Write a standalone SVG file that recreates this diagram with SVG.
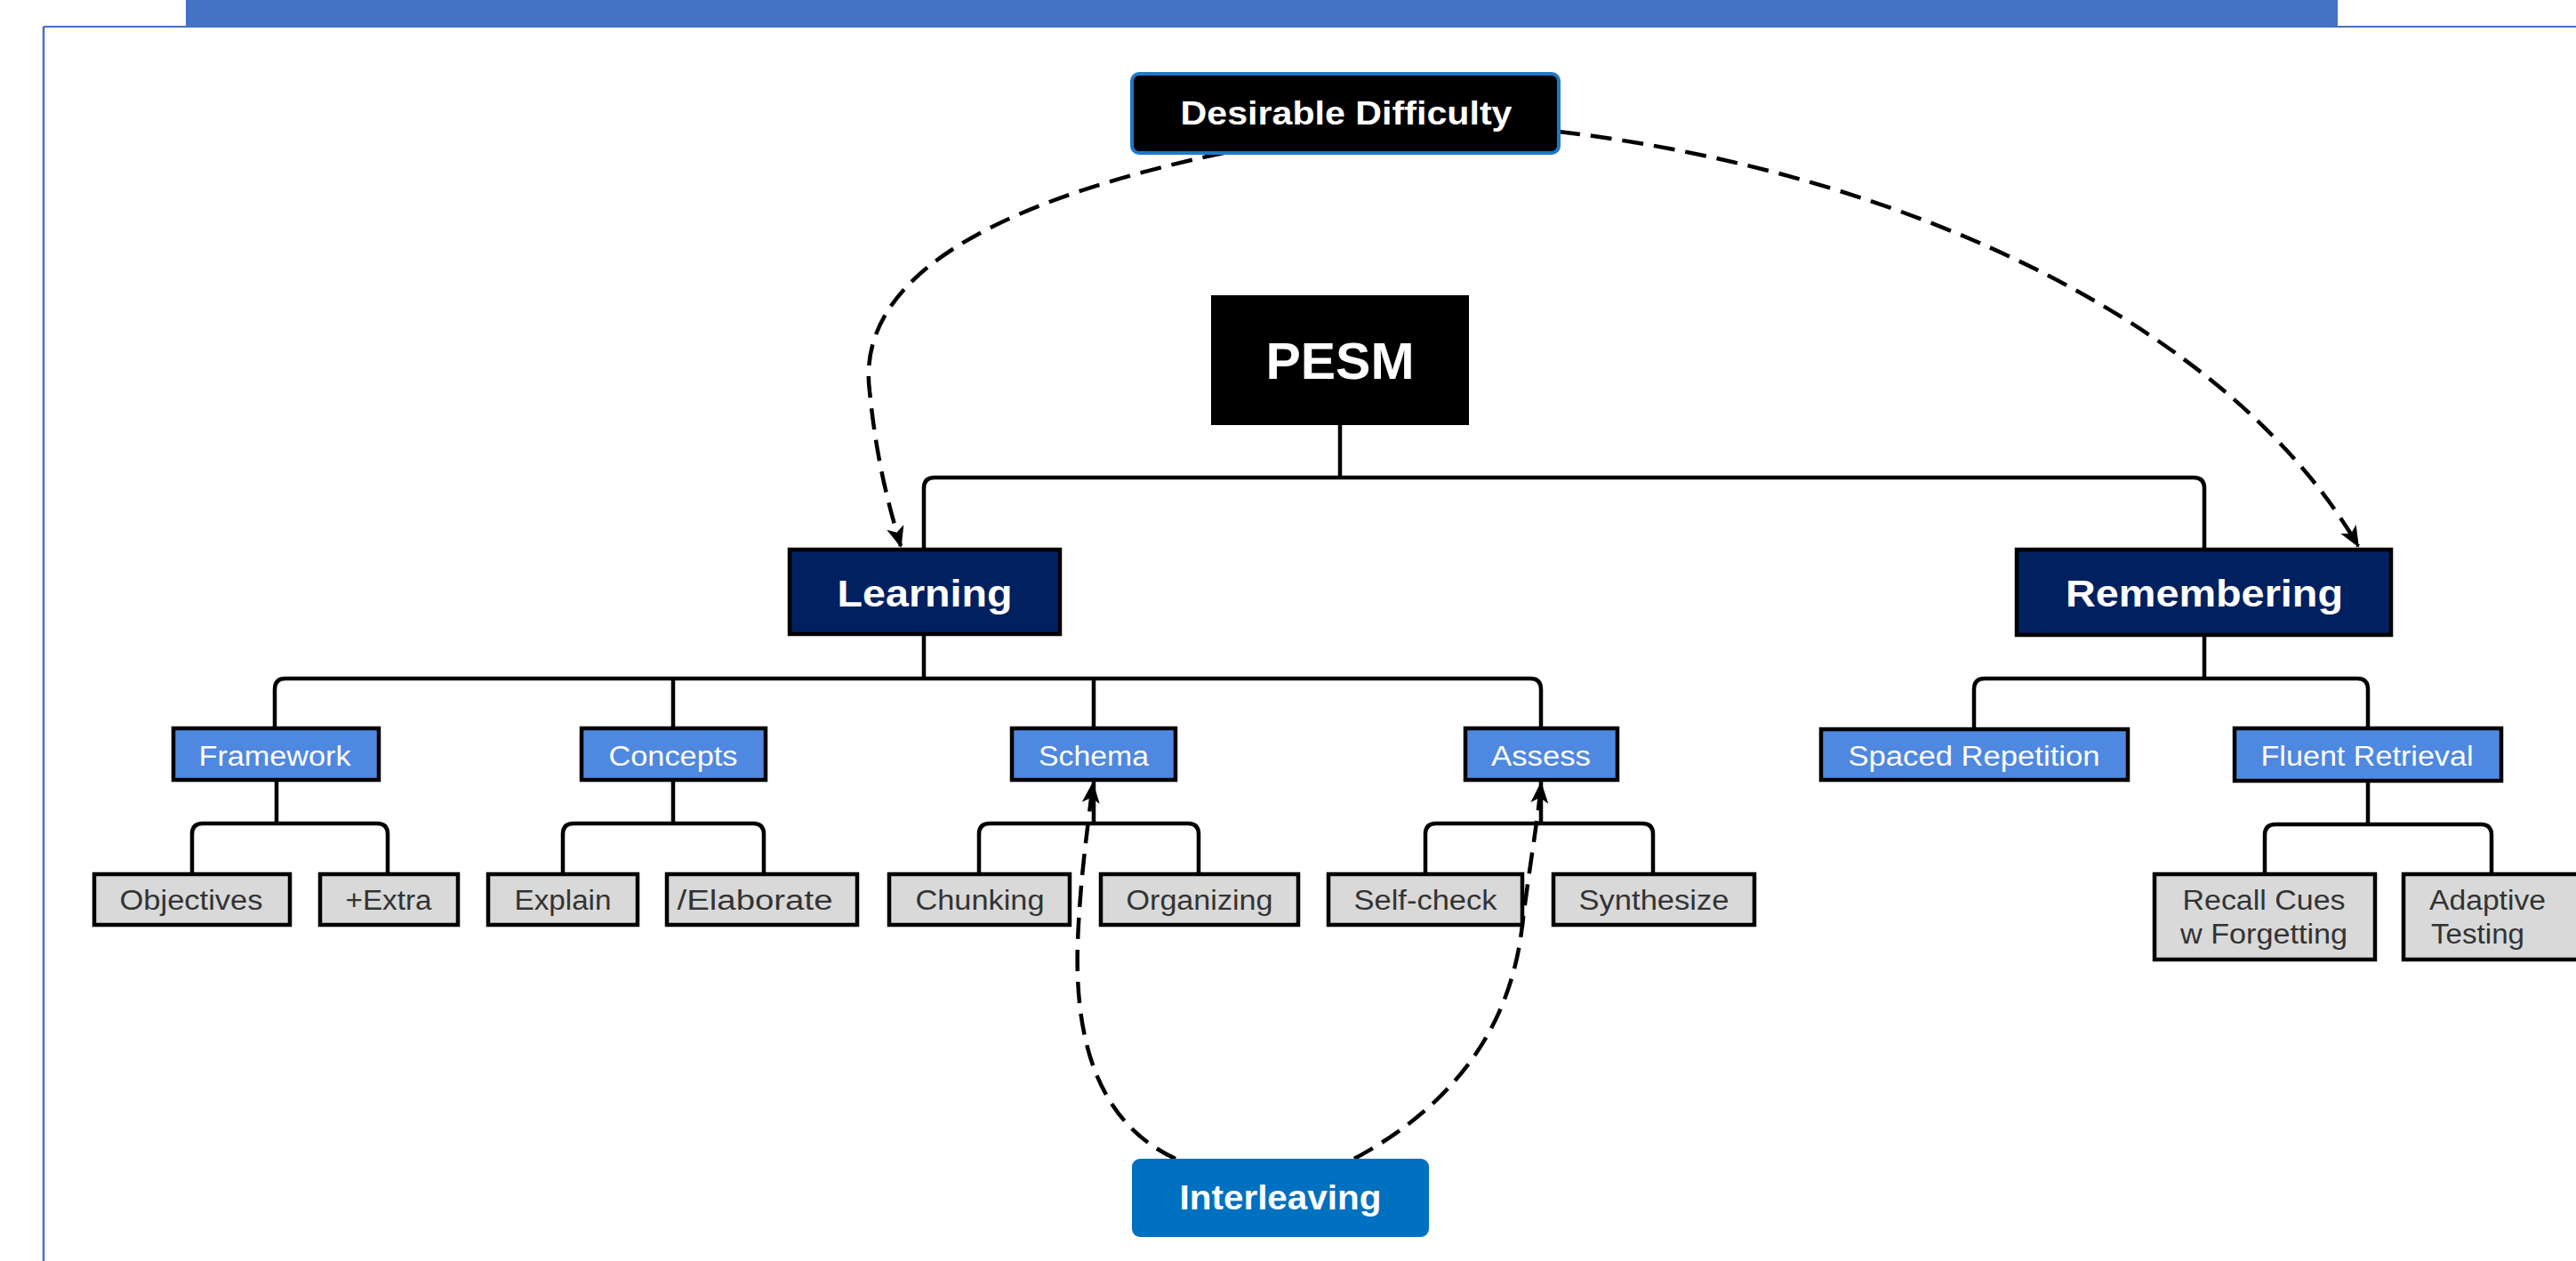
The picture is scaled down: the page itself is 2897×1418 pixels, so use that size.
<svg xmlns="http://www.w3.org/2000/svg" width="2897" height="1418" viewBox="0 0 2897 1418">
<style>
.tree{fill:none;stroke:#000;stroke-width:4.5;stroke-linejoin:round}
.dash{fill:none;stroke:#000;stroke-width:4.5;stroke-dasharray:24 12}
.blue{fill:#4F88E0;stroke:#000;stroke-width:4.5}
.gray{fill:#D9D9D9;stroke:#000;stroke-width:4.5}
.navy{fill:#002060;stroke:#000;stroke-width:4.5}
.bt{font-family:"Liberation Sans",Arial,sans-serif;font-size:31px;fill:#fff;text-anchor:middle}
.gt{font-family:"Liberation Sans",Arial,sans-serif;font-size:31px;fill:#333;text-anchor:middle}
.bold{font-family:"Liberation Sans",Arial,sans-serif;font-weight:bold;fill:#fff;text-anchor:middle}
</style>
<defs>
<marker id="arr" markerUnits="userSpaceOnUse" markerWidth="26" markerHeight="22" refX="22" refY="10" orient="auto" viewBox="0 0 26 22">
<path d="M0,0 L24,10 L0,20 L6,10 z" fill="#000"/>
</marker>
</defs>
<rect width="2897" height="1418" fill="#fff"/>
<g id="frame">
<rect x="209" y="0" width="2420" height="31" fill="#4472C4"/>
<line x1="49" y1="30" x2="2897" y2="30" stroke="#4472C4" stroke-width="2"/>
<line x1="49" y1="30" x2="49" y2="1418" stroke="#4472C4" stroke-width="2.5"/>
</g>
<g id="connectors">
<path class="tree" d="M1507,478 V537 M1039,618 V549 Q1039,537 1051,537 H2467 Q2479,537 2479,549 V618"/>
<path class="tree" d="M1039,713 V763 M309,819 V775 Q309,763 321,763 H1721 Q1733,763 1733,775 V819 M757,763 V819 M1230,763 V819"/>
<path class="tree" d="M2479,713 V763 M2220,820 V775 Q2220,763 2232,763 H2651 Q2663,763 2663,775 V819"/>
<path class="tree" d="M311,877 V926 M216,983 V938 Q216,926 228,926 H424 Q436,926 436,938 V983"/>
<path class="tree" d="M757,877 V926 M633,983 V938 Q633,926 645,926 H847 Q859,926 859,938 V983"/>
<path class="tree" d="M1230,877 V926 M1101,983 V938 Q1101,926 1113,926 H1336 Q1348,926 1348,938 V983"/>
<path class="tree" d="M1733,877 V926 M1603,983 V938 Q1603,926 1615,926 H1847 Q1859,926 1859,938 V983"/>
<path class="tree" d="M2663,878 V927 M2547,983 V939 Q2547,927 2559,927 H2790 Q2802,927 2802,939 V983"/>
<path class="dash" marker-end="url(#arr)" d="M1376,172 C1150,220 960,300 978,440 C986,520 1000,570 1013,614"/>
<path class="dash" marker-end="url(#arr)" d="M1753,148 C2150,195 2510,370 2652,614"/>
<path class="dash" marker-end="url(#arr)" d="M1322,1303 C1240,1265 1208,1180 1212,1060 C1215,980 1225,920 1229,881"/>
<path class="dash" marker-end="url(#arr)" d="M1523,1303 C1640,1240 1700,1150 1712,1040 C1722,960 1730,920 1733,881"/>
</g>
<g id="desirable-difficulty">
<rect x="1273" y="83" width="480" height="89" rx="8" fill="#000" stroke="#1F78C8" stroke-width="4"/>
<text class="bold" x="1514" y="140" font-size="36" textLength="373" lengthAdjust="spacingAndGlyphs">Desirable Difficulty</text>
</g>
<g id="pesm">
<rect x="1362" y="332" width="290" height="146" fill="#000"/>
<text class="bold" x="1507" y="426" font-size="57" textLength="167" lengthAdjust="spacingAndGlyphs">PESM</text>
</g>
<g id="learning">
<rect class="navy" x="888" y="618" width="304" height="95"/>
<text class="bold" x="1040" y="682" font-size="42" textLength="197" lengthAdjust="spacingAndGlyphs">Learning</text>
</g>
<g id="remembering">
<rect class="navy" x="2268" y="618" width="421" height="96"/>
<text class="bold" x="2479" y="682" font-size="42" textLength="312" lengthAdjust="spacingAndGlyphs">Remembering</text>
</g>
<g id="framework">
<rect class="blue" x="195" y="819" width="231" height="58"/>
<text class="bt" x="309" y="861" textLength="171" lengthAdjust="spacingAndGlyphs">Framework</text>
</g>
<g id="concepts">
<rect class="blue" x="654" y="819" width="207" height="58"/>
<text class="bt" x="757" y="861" textLength="145" lengthAdjust="spacingAndGlyphs">Concepts</text>
</g>
<g id="schema">
<rect class="blue" x="1138" y="819" width="184" height="58"/>
<text class="bt" x="1230" y="861" textLength="124" lengthAdjust="spacingAndGlyphs">Schema</text>
</g>
<g id="assess">
<rect class="blue" x="1648" y="819" width="171" height="58"/>
<text class="bt" x="1733" y="861" textLength="112" lengthAdjust="spacingAndGlyphs">Assess</text>
</g>
<g id="spaced-repetition">
<rect class="blue" x="2048" y="820" width="345" height="57"/>
<text class="bt" x="2220" y="861" textLength="283" lengthAdjust="spacingAndGlyphs">Spaced Repetition</text>
</g>
<g id="fluent-retrieval">
<rect class="blue" x="2513" y="819" width="300" height="59"/>
<text class="bt" x="2662" y="861" textLength="239" lengthAdjust="spacingAndGlyphs">Fluent Retrieval</text>
</g>
<g id="objectives">
<rect class="gray" x="106" y="983" width="220" height="57"/>
<text class="gt" x="215" y="1023" textLength="161" lengthAdjust="spacingAndGlyphs">Objectives</text>
</g>
<g id="extra">
<rect class="gray" x="360" y="983" width="155" height="57"/>
<text class="gt" x="437" y="1023" textLength="97" lengthAdjust="spacingAndGlyphs">+Extra</text>
</g>
<g id="explain">
<rect class="gray" x="549" y="983" width="168" height="57"/>
<text class="gt" x="633" y="1023" textLength="109" lengthAdjust="spacingAndGlyphs">Explain</text>
</g>
<g id="elaborate">
<rect class="gray" x="750" y="983" width="214" height="57"/>
<text class="gt" x="849" y="1023" textLength="175" lengthAdjust="spacingAndGlyphs">/Elaborate</text>
</g>
<g id="chunking">
<rect class="gray" x="1000" y="983" width="203" height="57"/>
<text class="gt" x="1102" y="1023" textLength="145" lengthAdjust="spacingAndGlyphs">Chunking</text>
</g>
<g id="organizing">
<rect class="gray" x="1238" y="983" width="222" height="57"/>
<text class="gt" x="1349" y="1023" textLength="165" lengthAdjust="spacingAndGlyphs">Organizing</text>
</g>
<g id="self-check">
<rect class="gray" x="1494" y="983" width="218" height="57"/>
<text class="gt" x="1603" y="1023" textLength="161" lengthAdjust="spacingAndGlyphs">Self-check</text>
</g>
<g id="synthesize">
<rect class="gray" x="1747" y="983" width="226" height="57"/>
<text class="gt" x="1860" y="1023" textLength="169" lengthAdjust="spacingAndGlyphs">Synthesize</text>
</g>
<g id="recall-cues">
<rect class="gray" x="2423" y="983" width="248" height="96"/>
<text class="gt" x="2546" y="1023" textLength="183" lengthAdjust="spacingAndGlyphs">Recall Cues</text>
<text class="gt" x="2546" y="1061" textLength="188" lengthAdjust="spacingAndGlyphs">w Forgetting</text>
</g>
<g id="adaptive-testing">
<rect class="gray" x="2703" y="983" width="205" height="96"/>
<text class="gt" x="2732" y="1023" style="text-anchor:start" textLength="131" lengthAdjust="spacingAndGlyphs">Adaptive</text>
<text class="gt" x="2734" y="1061" style="text-anchor:start" textLength="105" lengthAdjust="spacingAndGlyphs">Testing</text>
</g>
<g id="interleaving">
<rect x="1273" y="1303" width="334" height="88" rx="9" fill="#0070C0"/>
<text class="bold" x="1440" y="1360" font-size="38" textLength="227" lengthAdjust="spacingAndGlyphs">Interleaving</text>
</g>
</svg>
